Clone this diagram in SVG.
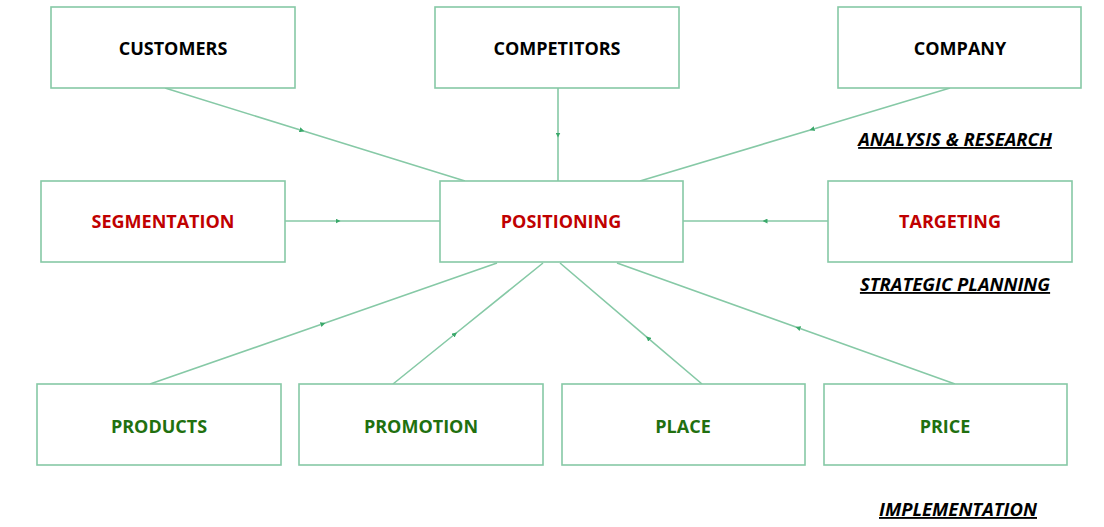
<svg xmlns="http://www.w3.org/2000/svg" width="1104" height="527" viewBox="0 0 1104 527">
<defs>
<style>
.box{fill:#fff;stroke:#86c9a6;stroke-width:1.6}
.ln{fill:none;stroke:#86c9a6;stroke-width:1.6;marker-mid:url(#ar)}
.t{font-family:"Open Sans","Liberation Sans",sans-serif;font-weight:700;font-size:18px;text-anchor:middle;dominant-baseline:central}
.k{fill:#000}
.r{fill:#c00000}
.g{fill:#21700f}
.lbl{font-family:"Open Sans","Liberation Sans",sans-serif;font-weight:700;font-style:italic;font-size:18.5px;text-anchor:middle;text-decoration:underline;fill:#000}
</style>
<marker id="ar" viewBox="0 0 10 10" refX="5" refY="5" markerWidth="5" markerHeight="5" orient="auto" markerUnits="userSpaceOnUse">
<path d="M0,0 L10,5 L0,10 z" fill="#3aa86a"/>
</marker>
</defs>
<rect width="1104" height="527" fill="#fff"/>
<g id="connectors">
<path class="ln" d="M165,88 L302,130.5 L465,181"/>
<path class="ln" d="M558,88 L558,135 L558,181"/>
<path class="ln" d="M950,88 L812,129.4 L640,181"/>
<path class="ln" d="M285,221 L338,221 L440,221"/>
<path class="ln" d="M828,221 L765,221 L683,221"/>
<path class="ln" d="M150,384 L323,323.8 L497,263"/>
<path class="ln" d="M393,384 L455,334 L543,263"/>
<path class="ln" d="M702,384 L648,338.2 L560,263"/>
<path class="ln" d="M955,384 L798,327.8 L617,263"/>
</g>
<g id="customers"><rect class="box" x="51" y="7" width="244" height="81"/><text class="t k" x="173" y="48">CUSTOMERS</text></g>
<g id="competitors"><rect class="box" x="435" y="7" width="244" height="81"/><text class="t k" x="557" y="48">COMPETITORS</text></g>
<g id="company"><rect class="box" x="838" y="7" width="243" height="81"/><text class="t k" x="960" y="48">COMPANY</text></g>
<g id="segmentation"><rect class="box" x="41" y="181" width="244" height="81"/><text class="t r" x="163" y="221">SEGMENTATION</text></g>
<g id="positioning"><rect class="box" x="440" y="181" width="243" height="81"/><text class="t r" x="561" y="221">POSITIONING</text></g>
<g id="targeting"><rect class="box" x="828" y="181" width="244" height="81"/><text class="t r" x="950" y="221">TARGETING</text></g>
<g id="products"><rect class="box" x="37" y="384" width="244" height="81"/><text class="t g" x="159" y="426">PRODUCTS</text></g>
<g id="promotion"><rect class="box" x="299" y="384" width="244" height="81"/><text class="t g" x="421" y="426">PROMOTION</text></g>
<g id="place"><rect class="box" x="562" y="384" width="243" height="81"/><text class="t g" x="683" y="426">PLACE</text></g>
<g id="price"><rect class="box" x="824" y="384" width="243" height="81"/><text class="t g" x="945" y="426">PRICE</text></g>
<g id="labels">
<text class="lbl" x="955" y="146">ANALYSIS &amp; RESEARCH</text>
<text class="lbl" x="955" y="291">STRATEGIC PLANNING</text>
<text class="lbl" x="958" y="516">IMPLEMENTATION</text>
</g>
</svg>
